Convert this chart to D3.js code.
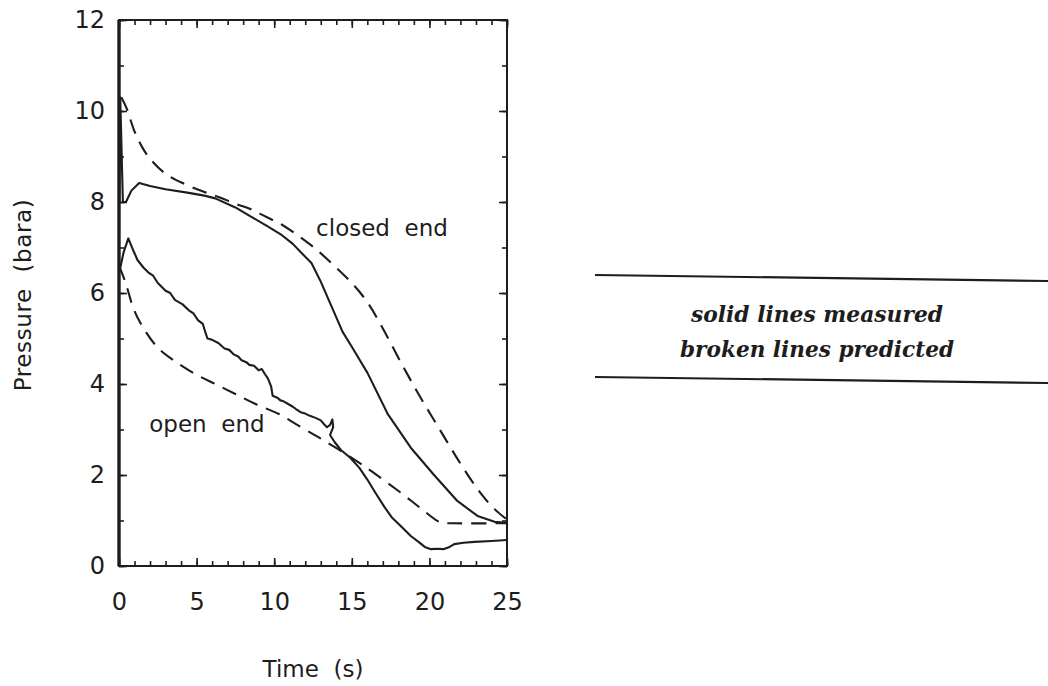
<!DOCTYPE html>
<html>
<head>
<meta charset="utf-8">
<script src="https://cdn.jsdelivr.net/npm/d3@7/dist/d3.min.js"></script>
<style>
  html, body { margin: 0; padding: 0; background: #ffffff; }
  svg { display: block; }
</style>
</head>
<body>
<svg id="chart" width="1048" height="686"></svg>
<script>
// Blowdown pressure histories, time in s, pressure in bara
const closedMeasured = [
  [0.03, 8.0], [0.08, 10.3], [0.25, 8.0], [0.45, 8.0], [0.8, 8.25], [1.3, 8.42], [2.0, 8.35],
  [3.0, 8.28], [4.5, 8.2], [5.5, 8.14], [6.2, 8.08], [7.5, 7.88], [8.5, 7.68], [9.5, 7.48],
  [10.5, 7.27], [11.2, 7.08], [11.7, 6.9], [12.4, 6.66], [13.0, 6.25], [13.7, 5.7],
  [14.4, 5.15], [15.0, 4.82], [16.0, 4.25], [17.3, 3.35], [18.8, 2.6], [20.3, 2.0],
  [21.8, 1.43], [23.1, 1.1], [24.2, 0.97], [25.0, 0.95]
];
const closedPredicted = [
  [0.15, 10.3], [0.5, 10.05], [1.0, 9.55], [1.5, 9.2], [2.0, 8.95], [3.0, 8.62], [4.2, 8.4],
  [5.5, 8.22], [6.5, 8.1], [7.5, 7.96], [8.5, 7.84], [9.5, 7.67], [10.5, 7.5], [11.7, 7.22],
  [12.7, 6.96], [13.8, 6.62], [15.0, 6.22], [16.0, 5.8], [17.0, 5.22], [18.2, 4.45],
  [19.4, 3.72], [20.7, 2.98], [22.0, 2.25], [23.3, 1.6], [24.2, 1.25], [25.0, 1.02]
];
const openMeasured = [
  [0.05, 6.5], [0.3, 6.9], [0.6, 7.2], [0.9, 6.95], [1.2, 6.72], [1.6, 6.55], [1.9, 6.45],
  [2.2, 6.38], [2.5, 6.22], [3.0, 6.05], [3.3, 6.0], [3.6, 5.85], [4.1, 5.75], [4.5, 5.62],
  [4.8, 5.55], [5.1, 5.4], [5.4, 5.32], [5.6, 5.1], [5.7, 5.0], [6.0, 4.97], [6.4, 4.9],
  [6.8, 4.78], [7.1, 4.75], [7.4, 4.65], [7.7, 4.6], [7.9, 4.52], [8.2, 4.48], [8.4, 4.42],
  [8.7, 4.4], [9.0, 4.3], [9.2, 4.33], [9.4, 4.22], [9.6, 4.12], [9.8, 3.95], [9.9, 3.74],
  [10.2, 3.7], [10.4, 3.64], [10.6, 3.62], [10.9, 3.56], [11.2, 3.5], [11.4, 3.45],
  [11.7, 3.38], [12.0, 3.35], [12.3, 3.3], [12.7, 3.25], [13.0, 3.2], [13.2, 3.12],
  [13.4, 3.05], [13.6, 3.1], [13.75, 3.22], [13.8, 3.05], [13.6, 2.88], [13.9, 2.72],
  [14.3, 2.55], [14.9, 2.38], [15.5, 2.15], [16.0, 1.9], [16.5, 1.62], [17.1, 1.3],
  [17.6, 1.06], [18.2, 0.86], [18.8, 0.66], [19.3, 0.53], [19.7, 0.42], [20.1, 0.37],
  [20.5, 0.38], [20.9, 0.37], [21.3, 0.42], [21.6, 0.48], [22.2, 0.51], [22.9, 0.53],
  [24.0, 0.55], [25.0, 0.57]
];
const openPredicted = [
  [0.0, 6.6], [0.4, 6.25], [1.0, 5.6], [1.7, 5.16], [2.5, 4.8], [3.6, 4.5], [4.9, 4.22],
  [6.2, 4.0], [7.5, 3.78], [8.8, 3.56], [10.3, 3.34], [11.4, 3.12], [12.5, 2.9],
  [13.0, 2.8], [14.9, 2.4], [16.4, 2.05], [18.2, 1.6], [19.4, 1.28], [20.7, 0.96],
  [21.5, 0.94], [25.0, 0.94]
];

const xMajorTicks = [0, 5, 10, 15, 20, 25];
const yMajorTicks = [0, 2, 4, 6, 8, 10, 12];
const xMinorTicks = d3.range(0, 26, 1);
const yMinorTicks = d3.range(0, 13, 1);

const curveLabels = [
  { text: "closed  end", t: 12.7, p: 7.25 },
  { text: "open  end", t: 1.95, p: 2.95 }
];
const legendLines = ["solid lines measured", "broken lines predicted"];

const ink = "#1d1d1d";
const svg = d3.select("#chart");

const plot = { left: 119, right: 507, top: 20, bottom: 566 };
const x = d3.scaleLinear().domain([0, 25]).range([plot.left, plot.right]);
const y = d3.scaleLinear().domain([0, 12]).range([plot.bottom, plot.top]);

const sans = "'DejaVu Sans', Verdana, sans-serif";

// Tick marks on all four sides, pointing into the frame
function tickGroup(axis, transform) {
  const g = svg.append("g").attr("transform", transform).call(axis);
  g.select(".domain").remove();
  g.selectAll(".tick line").attr("stroke", ink).attr("stroke-width", 1.6);
  return g;
}
tickGroup(d3.axisBottom(x).tickValues(xMinorTicks).tickSize(-5).tickFormat(""), `translate(0,${plot.bottom})`);
tickGroup(d3.axisTop(x).tickValues(xMinorTicks).tickSize(-5).tickFormat(""), `translate(0,${plot.top})`);
tickGroup(d3.axisLeft(y).tickValues(yMinorTicks).tickSize(-5).tickFormat(""), `translate(${plot.left},0)`);
tickGroup(d3.axisRight(y).tickValues(yMinorTicks).tickSize(-5).tickFormat(""), `translate(${plot.right},0)`);
tickGroup(d3.axisTop(x).tickValues(xMajorTicks).tickSize(-8).tickFormat(""), `translate(0,${plot.top})`);
tickGroup(d3.axisRight(y).tickValues(yMajorTicks).tickSize(-8).tickFormat(""), `translate(${plot.right},0)`);

const xAxis = tickGroup(d3.axisBottom(x).tickValues(xMajorTicks).tickSize(-8).tickPadding(27).tickFormat(d3.format("d")),
  `translate(0,${plot.bottom})`);
const yAxis = tickGroup(d3.axisLeft(y).tickValues(yMajorTicks).tickSize(-8).tickPadding(14).tickFormat(d3.format("d")),
  `translate(${plot.left},0)`);
[xAxis, yAxis].forEach(g => g.selectAll("text")
  .attr("fill", ink).style("font-family", sans).style("font-size", "24px"));

// Frame: the pressure axis is drawn heavier
svg.append("rect")
  .attr("x", plot.left).attr("y", plot.top)
  .attr("width", plot.right - plot.left).attr("height", plot.bottom - plot.top)
  .attr("fill", "none").attr("stroke", ink).attr("stroke-width", 2);
svg.append("line")
  .attr("x1", plot.left).attr("x2", plot.left).attr("y1", plot.top).attr("y2", plot.bottom)
  .attr("stroke", ink).attr("stroke-width", 3.4);

// Curves
const smooth = d3.line().x(d => x(d[0])).y(d => y(d[1])).curve(d3.curveCatmullRom.alpha(0.5));
const raw = d3.line().x(d => x(d[0])).y(d => y(d[1]));

const series = [
  { data: closedPredicted, gen: smooth, dash: "15,9" },
  { data: openPredicted, gen: smooth, dash: "15,9" },
  { data: closedMeasured, gen: raw, dash: null },
  { data: openMeasured, gen: raw, dash: null }
];
svg.append("g").selectAll("path").data(series).join("path")
  .attr("d", s => s.gen(s.data))
  .attr("fill", "none")
  .attr("stroke", ink)
  .attr("stroke-width", 2.1)
  .attr("stroke-linejoin", "round")
  .attr("stroke-dasharray", s => s.dash);

// Curve annotations
svg.append("g").selectAll("text").data(curveLabels).join("text")
  .attr("x", d => x(d.t)).attr("y", d => y(d.p))
  .attr("fill", ink)
  .style("font-family", sans).style("font-size", "23px")
  .style("white-space", "pre")
  .text(d => d.text);

// Axis titles
svg.append("text")
  .attr("x", (plot.left + plot.right) / 2).attr("y", 677)
  .attr("text-anchor", "middle").attr("fill", ink)
  .style("font-family", sans).style("font-size", "23px").style("white-space", "pre")
  .text("Time  (s)");
svg.append("text")
  .attr("transform", `translate(31,${(plot.top + plot.bottom) / 2 + 2}) rotate(-90)`)
  .attr("text-anchor", "middle").attr("fill", ink)
  .style("font-family", sans).style("font-size", "23px").style("white-space", "pre")
  .style("letter-spacing", "0.6px")
  .text("Pressure  (bara)");

// Key panel between two rules
const key = svg.append("g");
key.append("line").attr("x1", 595).attr("y1", 275).attr("x2", 1048).attr("y2", 281)
  .attr("stroke", ink).attr("stroke-width", 2.2);
key.append("line").attr("x1", 595).attr("y1", 377).attr("x2", 1048).attr("y2", 383)
  .attr("stroke", ink).attr("stroke-width", 2.2);
key.selectAll("text.keytext").data(legendLines).join("text")
  .attr("class", "keytext")
  .attr("x", 817).attr("y", (d, i) => 322 + i * 35)
  .attr("text-anchor", "middle").attr("fill", ink)
  .attr("textLength", (d, i) => i === 0 ? 252 : 274)
  .attr("lengthAdjust", "spacingAndGlyphs")
  .style("font-family", "'DejaVu Serif', 'Liberation Serif', serif")
  .style("font-style", "italic").style("font-weight", "bold").style("font-size", "22px")
  .text(d => d);
</script>
</body>
</html>
